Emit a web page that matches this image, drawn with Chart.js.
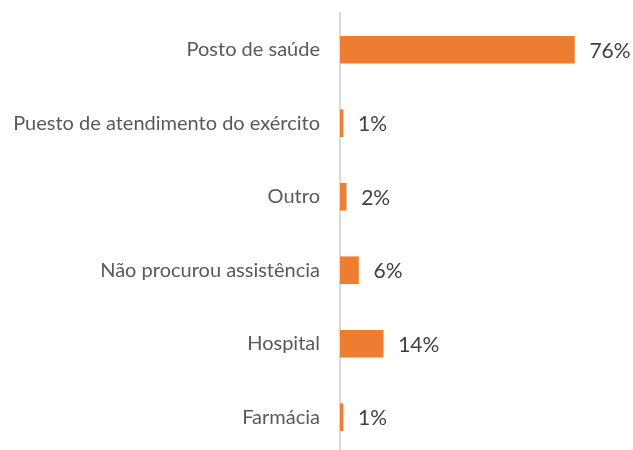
<!DOCTYPE html>
<html>
<head>
<meta charset="utf-8">
<script src="https://cdn.jsdelivr.net/npm/chart.js@4"></script>
<style>
  html, body { margin: 0; padding: 0; background: #fff; }
  #wrap { width: 633px; height: 450px; overflow: hidden; }
</style>
</head>
<body>
<div id="wrap"><canvas id="myChart" width="633" height="466"></canvas></div>
<script>
// categorias e valores (%)
const categorias = [
  "Posto de saúde",
  "Puesto de atendimento do exército",
  "Outro",
  "Não procurou assistência",
  "Hospital",
  "Farmácia"
];
const valores = [76, 1, 2, 6, 14, 1];
const rotulos = ["76%", "1%", "2%", "6%", "14%", "1%"];

// escreve o valor ao lado de cada barra
const valorPlugin = {
  id: "valorPlugin",
  afterDatasetsDraw(chart) {
    const ctx = chart.ctx;
    const meta = chart.getDatasetMeta(0);
    ctx.save();
    ctx.font = "21px Lato";
    ctx.fillStyle = "#404040";
    ctx.textBaseline = "middle";
    meta.data.forEach((bar, i) => {
      ctx.fillText(rotulos[i], bar.x + 15, bar.y + 1);
    });
    ctx.restore();
  }
};

const ctx = document.getElementById("myChart");

new Chart(ctx, {
  type: "bar",
  data: {
    labels: categorias,
    datasets: [
      {
        data: valores,
        backgroundColor: "#ED7D31",
        borderWidth: 0,
        barThickness: 27,
      },
    ],
  },
  options: {
    indexAxis: "y",
    responsive: false,
    animation: false,
    layout: { padding: { top: 13, right: 0, bottom: 0, left: 0 } },
    plugins: {
      legend: { display: false },
      tooltip: { enabled: false },
    },
    scales: {
      x: {
        display: false,
        min: 0,
        max: 95,
      },
      y: {
        afterFit: function (scale) {
          scale.width = 340;
        },
        // tickLength faz o espaço entre o texto e o eixo
        grid: { display: true, color: "transparent", drawTicks: true, tickLength: 20 },
        border: { color: "#d9d9d9", width: 2 },
        ticks: {
          padding: 0,
          color: "#595959",
          font: { family: "Lato", size: 20 },
        },
      },
    },
  },
  plugins: [valorPlugin],
});
</script>
</body>
</html>
